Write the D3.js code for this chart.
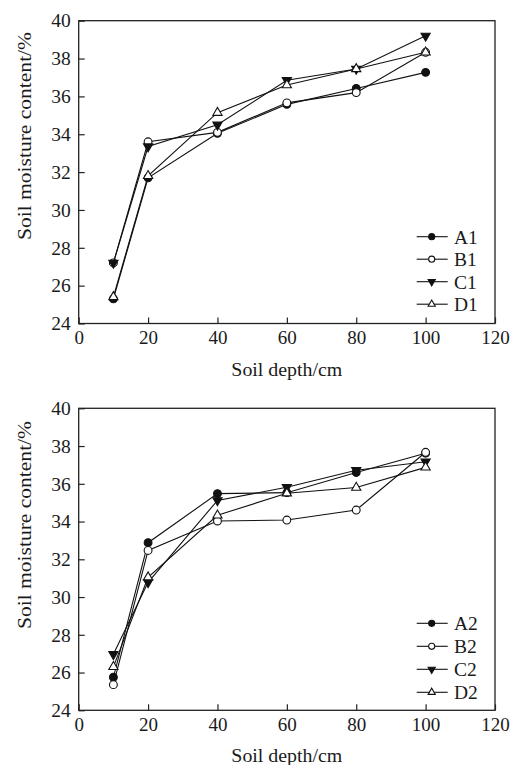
<!DOCTYPE html>
<html>
<head>
<meta charset="utf-8">
<script src="https://cdn.jsdelivr.net/npm/d3@7"></script>
<style>
  html, body { margin: 0; padding: 0; background: #fff; }
  svg { display: block; }
  svg text { font-family: "Liberation Serif", "Times New Roman", "DejaVu Serif", serif; fill: #1a1a1a; }
</style>
</head>
<body>
<svg id="chart" width="514" height="765"></svg>
<script>
// Soil depths sampled (cm)
const depths = [10, 20, 40, 60, 80, 100];

// Panel 1 series: soil moisture content (%)
const A1 = [25.3, 31.7, 34.05, 35.58, 36.42, 37.27];
const B1 = [27.2, 33.6, 34.1, 35.66, 36.2, 38.33];
const C1 = [27.2, 33.35, 34.5, 36.85, 37.45, 39.2];
const D1 = [25.4, 31.8, 35.14, 36.6, 37.45, 38.33];

// Panel 2 series: soil moisture content (%)
const A2 = [25.75, 32.88, 35.48, 35.53, 36.6, 37.62];
const B2 = [25.36, 32.47, 34.03, 34.08, 34.61, 37.67];
const C2 = [26.97, 30.78, 35.12, 35.82, 36.72, 37.17];
const D2 = [26.3, 31.05, 34.33, 35.5, 35.8, 36.87];

const xTicks = [0, 20, 40, 60, 80, 100, 120];
const yTicks = [24, 26, 28, 30, 32, 34, 36, 38, 40];

const xTitle = "Soil depth/cm";
const yTitle = "Soil moisture content/%";

const FONT = "'Liberation Serif', 'Times New Roman', 'DejaVu Serif', serif";

// marker style per series position: filled circle, open circle, filled down-triangle, open up-triangle
const markerKinds = ["circleFilled", "circleOpen", "triDownFilled", "triUpOpen"];

const panels = [
  { names: ["A1", "B1", "C1", "D1"], series: [A1, B1, C1, D1], top: 20.7, bottom: 323.5,
    legendY: [236.7, 259.2, 281.7, 304.2], titleY: 376, yTitleCenter: 136 },
  { names: ["A2", "B2", "C2", "D2"], series: [A2, B2, C2, D2], top: 408.3, bottom: 710.3,
    legendY: [623.3, 646.3, 669.3, 692.3], titleY: 762, yTitleCenter: 525 }
];

const svg = d3.select("#chart");
const left = 78.7, right = 495;
const x = d3.scaleLinear().domain([0, 120]).range([left, right]);

function triPath(kind, s) {
  const h = s * 1.73;
  if (kind === "triDownFilled") {
    return `M${-s},${-h / 3}L${s},${-h / 3}L0,${2 * h / 3}Z`;
  }
  return `M${-s},${h / 3}L${s},${h / 3}L0,${-2 * h / 3}Z`;
}

function drawMarker(g, kind, cx, cy, scale) {
  const filled = kind.endsWith("Filled");
  if (kind.startsWith("circle")) {
    g.append("circle")
      .attr("cx", cx).attr("cy", cy).attr("r", 3.9 * scale)
      .attr("fill", filled ? "#111" : "#fff")
      .attr("stroke", "#111").attr("stroke-width", 1.1);
  } else {
    g.append("path")
      .attr("transform", `translate(${cx},${cy})`)
      .attr("d", triPath(kind, 4.6 * scale))
      .attr("fill", filled ? "#111" : "#fff")
      .attr("stroke", "#111").attr("stroke-width", 1.1);
  }
}

panels.forEach(p => {
  const y = d3.scaleLinear().domain([24, 40]).range([p.bottom, p.top]);
  const g = svg.append("g").attr("font-family", FONT);

  // frame
  g.append("rect")
    .attr("x", left).attr("y", p.top)
    .attr("width", right - left).attr("height", p.bottom - p.top)
    .attr("fill", "none").attr("stroke", "#222").attr("stroke-width", 1.3);

  // x axis (ticks pointing inward)
  const xAxis = d3.axisBottom(x).tickValues(xTicks).tickSize(-6).tickPadding(7).tickFormat(d3.format("d"));
  const gx = g.append("g").attr("transform", `translate(0,${p.bottom})`).call(xAxis)
    .attr("font-family", FONT).attr("font-size", 19);
  gx.select(".domain").remove();
  gx.selectAll(".tick line").attr("stroke", "#222").attr("stroke-width", 1.2);
  gx.selectAll(".tick text").attr("fill", "#1a1a1a");

  // y axis (ticks pointing inward)
  const yAxis = d3.axisLeft(y).tickValues(yTicks).tickSize(-6).tickPadding(8).tickFormat(d3.format("d"));
  const gy = g.append("g").attr("transform", `translate(${left},0)`).call(yAxis)
    .attr("font-family", FONT).attr("font-size", 19.5);
  gy.select(".domain").remove();
  gy.selectAll(".tick line").attr("stroke", "#222").attr("stroke-width", 1.2);
  gy.selectAll(".tick text").attr("fill", "#1a1a1a");

  // axis titles
  g.append("text")
    .attr("x", (left + right) / 2).attr("y", p.titleY)
    .attr("text-anchor", "middle").attr("font-size", 18)
    .attr("textLength", 111).attr("lengthAdjust", "spacingAndGlyphs")
    .text(xTitle);
  g.append("text")
    .attr("transform", `translate(31,${p.yTitleCenter}) rotate(-90)`)
    .attr("text-anchor", "middle").attr("font-size", 18.5)
    .attr("textLength", 208).attr("lengthAdjust", "spacingAndGlyphs")
    .text(yTitle);

  // series lines and markers
  const line = d3.line().x((d, i) => x(depths[i])).y(d => y(d));
  p.series.forEach((vals, si) => {
    const sg = g.append("g");
    sg.append("path")
      .attr("d", line(vals))
      .attr("fill", "none").attr("stroke", "#111").attr("stroke-width", 1.1);
    vals.forEach((v, i) => drawMarker(sg, markerKinds[si], x(depths[i]), y(v), 1));
  });

  // legend
  const lx0 = 416.7, lx1 = 447.7, lm = 431.7, tx = 454;
  p.names.forEach((name, si) => {
    const ly = p.legendY[si];
    const lg = g.append("g");
    lg.append("line").attr("x1", lx0).attr("x2", lx1).attr("y1", ly).attr("y2", ly)
      .attr("stroke", "#111").attr("stroke-width", 1.1);
    drawMarker(lg, markerKinds[si], lm, ly, 0.78);
    lg.append("text").attr("x", tx).attr("y", ly).attr("dy", "0.35em")
      .attr("font-size", 19.5).text(name);
  });
});
</script>
</body>
</html>
